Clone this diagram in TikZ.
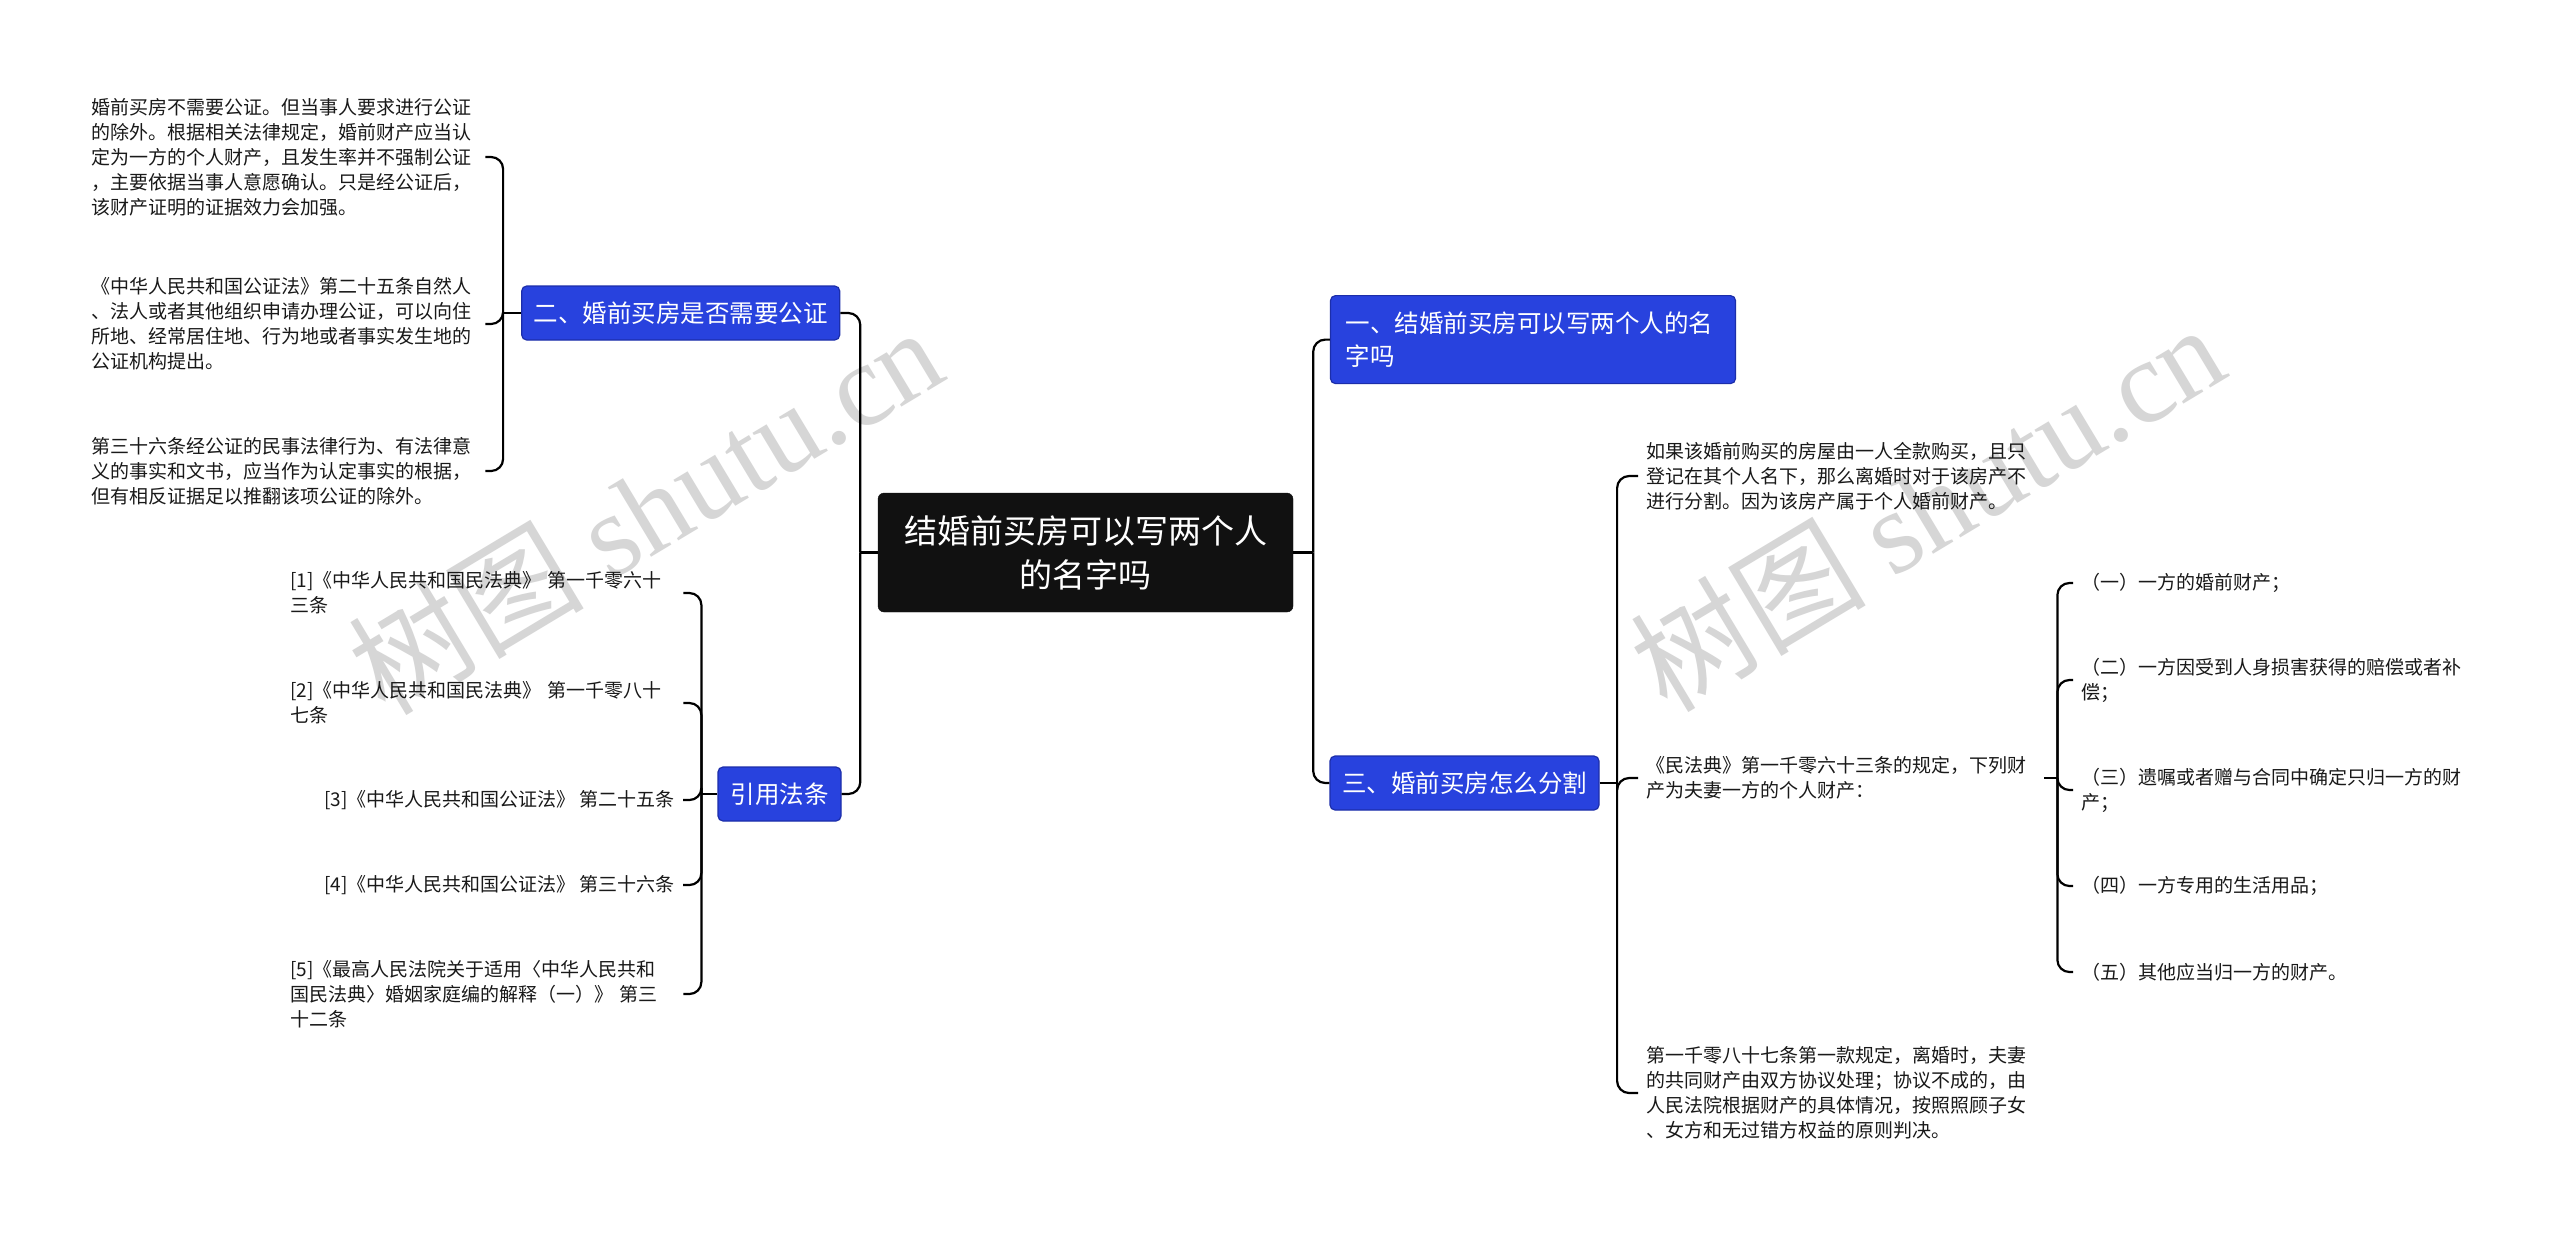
\documentclass[tikz,border=0pt]{standalone}
\usepackage{fontspec}
\setmainfont{Noto Sans CJK SC}
\newfontfamily\wmlatin{Liberation Serif}
\usetikzlibrary{calc}
\definecolor{nodeblue}{RGB}{40,66,222}
\definecolor{nodeblueline}{RGB}{28,46,170}
\definecolor{rootblack}{RGB}{17,17,17}
\tikzset{
 conn/.style={draw=black, line width=2.2pt, rounded corners=12pt},
 rootbox/.style={fill=rootblack, draw=rootblack, rounded corners=6pt, text=white, font=\fontsize{33}{44}\selectfont, align=center, minimum width=415pt, minimum height=119pt, inner sep=0pt},
 branch/.style={fill=nodeblue, draw=nodeblueline, line width=1.2pt, rounded corners=5pt, text=white, font=\fontsize{24.5}{33}\selectfont, align=left, minimum height=54pt, inner xsep=12pt, inner ysep=0pt},
 leaf/.style={font=\fontsize{19}{25}\selectfont, align=left, inner xsep=8pt, inner ysep=3pt, text=black!90},
 wm/.style={text=black!16, font=\fontsize{118}{118}\selectfont}
}
\begin{document}
\begin{tikzpicture}[x=1pt,y=-1pt]
\fill[white] (0,0) rectangle (2560,1235);
\useasboundingbox (0,0) rectangle (2560,1235);
% watermarks
\node[wm, rotate=31] (wm1) at (645,509) {树图 {\wmlatin shutu.cn}};
\node[wm, rotate=31] (wm2) at (1927,506) {树图 {\wmlatin shutu.cn}};
% root
\node[rootbox] (root) at (1085.5,552.5) {结婚前买房可以写两个人\\的名字吗};
% branches
\node[branch, text width=375pt, inner xsep=15pt, minimum height=88pt] (b1) at (1533,339.6) {一、结婚前买房可以写两个人的名\\字吗};
\node[branch, minimum width=268pt] (b3) at (1464.5,783) {三、婚前买房怎么分割};
\node[branch, minimum width=317pt] (b2) at (680.7,313) {二、婚前买房是否需要公证};
\node[branch, minimum width=123pt] (b4) at (779.5,794) {引用法条};
% left leaves of b2
\node[leaf, text width=386pt, anchor=west] (l1) at (83,157) {婚前买房不需要公证。但当事人要求进行公证\\的除外。根据相关法律规定，婚前财产应当认\\定为一方的个人财产，且发生率并不强制公证\\，主要依据当事人意愿确认。只是经公证后，\\该财产证明的证据效力会加强。};
\node[leaf, text width=386pt, anchor=west] (l2) at (83,324) {《中华人民共和国公证法》第二十五条自然人\\、法人或者其他组织申请办理公证，可以向住\\所地、经常居住地、行为地或者事实发生地的\\公证机构提出。};
\node[leaf, text width=386pt, anchor=west] (l3) at (83,471) {第三十六条经公证的民事法律行为、有法律意\\义的事实和文书，应当作为认定事实的根据，\\但有相反证据足以推翻该项公证的除外。};
% citations
\node[leaf, text width=385pt, anchor=west] (c1) at (282,593) {[1]《中华人民共和国民法典》~第一千零六十\\三条};
\node[leaf, text width=385pt, anchor=west] (c2) at (282,703) {[2]《中华人民共和国民法典》~第一千零八十\\七条};
\node[leaf, anchor=east] (c3) at (683,800) {[3]《中华人民共和国公证法》~第二十五条};
\node[leaf, anchor=east] (c4) at (683,885) {[4]《中华人民共和国公证法》~第三十六条};
\node[leaf, text width=385pt, anchor=west] (c5) at (282,994) {[5]《最高人民法院关于适用〈中华人民共和\\国民法典〉婚姻家庭编的解释（一）》~第三\\十二条};
% right leaves of b3
\node[leaf, text width=390pt, anchor=west] (rA) at (1638,476) {如果该婚前购买的房屋由一人全款购买，且只\\登记在其个人名下，那么离婚时对于该房产不\\进行分割。因为该房产属于个人婚前财产。};
\node[leaf, text width=390pt, anchor=west] (rB) at (1638,778) {《民法典》第一千零六十三条的规定，下列财\\产为夫妻一方的个人财产：};
\node[leaf, text width=390pt, anchor=west] (rC) at (1638,1093) {第一千零八十七条第一款规定，离婚时，夫妻\\的共同财产由双方协议处理；协议不成的，由\\人民法院根据财产的具体情况，按照照顾子女\\、女方和无过错方权益的原则判决。};
% sub leaves of rB
\node[leaf, text width=390pt, anchor=west] (s1) at (2073,583) {（一）一方的婚前财产；};
\node[leaf, text width=390pt, anchor=west] (s2) at (2073,680) {（二）一方因受到人身损害获得的赔偿或者补\\偿；};
\node[leaf, text width=390pt, anchor=west] (s3) at (2073,790) {（三）遗嘱或者赠与合同中确定只归一方的财\\产；};
\node[leaf, text width=390pt, anchor=west] (s4) at (2073,886) {（四）一方专用的生活用品；};
\node[leaf, text width=390pt, anchor=west] (s5) at (2073,972) {（五）其他应当归一方的财产。};
% junction coordinates
\coordinate (jR) at ($(root.east)+(20,0)$);
\coordinate (jL) at ($(root.west)+(-17.5,0)$);
\coordinate (j2) at ($(b2.west)+(-18,0)$);
\coordinate (j4) at ($(b4.west)+(-16,0)$);
\coordinate (j3) at ($(b3.east)+(17.5,0)$);
\coordinate (jB) at ($(rB.east)+(13,0)$);
% connectors
\draw[conn] (root.east) -- (jR);
\draw[conn] (jR) |- (b1.west);
\draw[conn] (jR) |- (b3.west);
\draw[conn] (root.west) -- (jL);
\draw[conn] (jL) |- (b2.east);
\draw[conn] (jL) |- (b4.east);
\draw[conn] (b2.west) -- (j2);
\draw[conn] (j2) |- (l1.east);
\draw[conn] (j2) |- (l2.east);
\draw[conn] (j2) |- (l3.east);
\draw[conn] (b4.west) -- (j4);
\draw[conn] (j4) |- (c1.east);
\draw[conn] (j4) |- (c2.east);
\draw[conn] (j4) |- (c3.east);
\draw[conn] (j4) |- (c4.east);
\draw[conn] (j4) |- (c5.east);
\draw[conn] (b3.east) -- (j3);
\draw[conn] (j3) |- (rA.west);
\draw[conn] (j3) |- (rB.west);
\draw[conn] (j3) |- (rC.west);
\draw[conn] (rB.east) -- (jB);
\draw[conn] (jB) |- (s1.west);
\draw[conn] (jB) |- (s2.west);
\draw[conn] (jB) |- (s3.west);
\draw[conn] (jB) |- (s4.west);
\draw[conn] (jB) |- (s5.west);
\end{tikzpicture}
\end{document}
